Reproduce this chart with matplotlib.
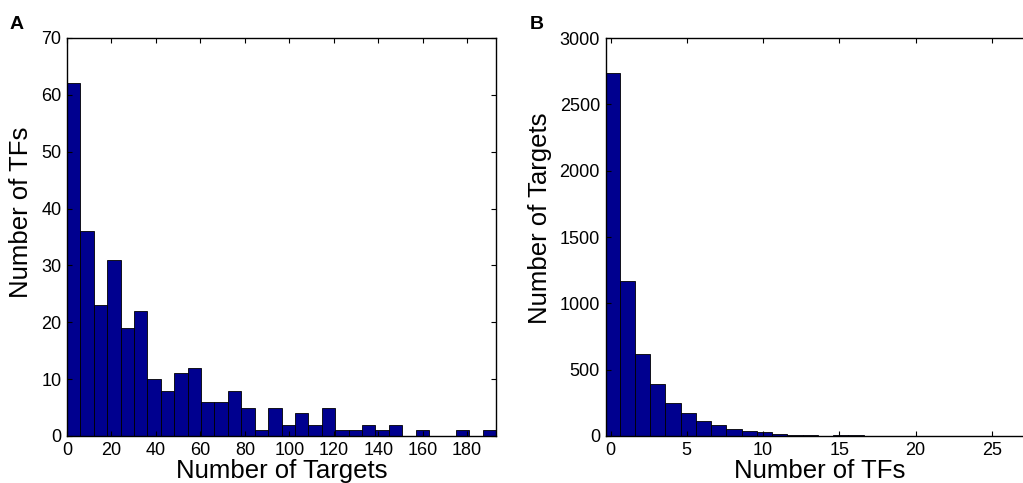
import numpy as np
import matplotlib
matplotlib.use("Agg")
import matplotlib.pyplot as plt

plt.rcParams['font.family'] = ['Liberation Sans', 'DejaVu Sans']

# Panel A: number of targets per TF (32 bins over 0..193)
targets_range = (0, 193)
tf_counts = [62, 36, 23, 31, 19, 22, 10, 8, 11, 12, 6, 6, 8, 5, 1, 5,
             2, 4, 2, 5, 1, 1, 2, 1, 2, 0, 1, 0, 0, 1, 0, 1]
a_xticks = [0, 20, 40, 60, 80, 100, 120, 140, 160, 180]
a_yticks = [0, 10, 20, 30, 40, 50, 60, 70]

# Panel B: number of TFs per target (unit bins)
tf_bin_start = -0.4
target_counts = [2735, 1170, 618, 392, 250, 170, 112, 86, 52, 34, 30, 18,
                 10, 8, 3, 5, 4, 1, 3, 1, 2, 2, 0, 0, 0, 0, 0, 0]
b_xticks = [0, 5, 10, 15, 20, 25]
b_yticks = [0, 500, 1000, 1500, 2000, 2500, 3000]

BAR = '#00008F'
W, H = 1023, 483
fig = plt.figure(figsize=(W / 100, H / 100), dpi=100)

def pos(left, right, top, bottom):
    return [left / W, 1 - bottom / H, (right - left) / W, (bottom - top) / H]

axA = fig.add_axes(pos(67, 496, 38, 436))
axB = fig.add_axes(pos(605.5, 1034.5, 38, 436))

def style(ax):
    ax.tick_params(direction='in', top=True, right=True, length=3.5,
                   width=0.8, labelsize=13, pad=4, colors='black')
    for s in ax.spines.values():
        s.set_linewidth(1.0)

# Panel A
edges_a = np.linspace(targets_range[0], targets_range[1], len(tf_counts) + 1)
axA.bar(edges_a[:-1], tf_counts, width=np.diff(edges_a), align='edge',
        color=BAR, edgecolor='black', linewidth=0.6)
axA.set_xlim(*targets_range)
axA.set_ylim(0, 70)
axA.set_xticks(a_xticks)
axA.set_yticks(a_yticks)
style(axA)
axA.set_xlabel('Number of Targets', fontsize=18.5, labelpad=0)
axA.set_ylabel('Number of TFs', fontsize=18.5, labelpad=3)
axA.yaxis.set_label_coords(-0.079, 0.563)

# Panel B
edges_b = tf_bin_start + np.arange(len(target_counts) + 1)
axB.bar(edges_b[:-1], target_counts, width=1.0, align='edge',
        color=BAR, edgecolor='black', linewidth=0.6)
axB.set_xlim(-0.33, -0.33 + 429 / 15.25)
axB.set_ylim(0, 3000)
axB.set_xticks(b_xticks)
axB.set_yticks(b_yticks)
style(axB)
axB.set_xlabel('Number of TFs', fontsize=18.5, labelpad=0)
axB.set_ylabel('Number of Targets', fontsize=18.5, labelpad=3)
axB.yaxis.set_label_coords(-0.124, 0.548)

fig.text(10 / W, 1 - 29 / H, 'A', fontsize=14, fontweight='bold', va='baseline', ha='left')
fig.text(530 / W, 1 - 29 / H, 'B', fontsize=14, fontweight='bold', va='baseline', ha='left')

fig.savefig('out.png', dpi=100)
